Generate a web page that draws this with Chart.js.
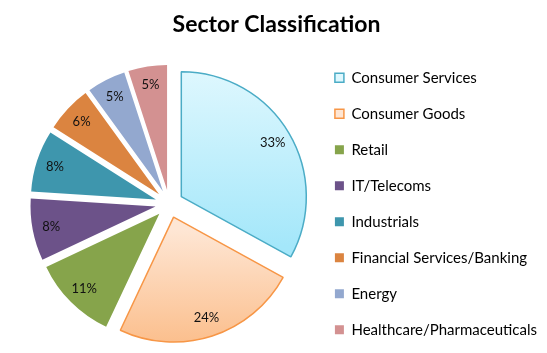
<!DOCTYPE html>
<html>
<head>
<meta charset="utf-8">
<script src="https://cdn.jsdelivr.net/npm/chart.js@4"></script>
<style>
  html, body { margin: 0; padding: 0; background: #fff; }
  #wrap { width: 547px; height: 353px; }
</style>
</head>
<body>
<div id="wrap"><canvas id="chart-sectors"></canvas></div>
<script>
const sectors = [
  'Consumer Services',
  'Consumer Goods',
  'Retail',
  'IT/Telecoms',
  'Industrials',
  'Financial Services/Banking',
  'Energy',
  'Healthcare/Pharmaceuticals'
];
const shares = [33, 24, 11, 8, 8, 6, 5, 5];

const PIE_R = 125;   // px
const EXPLODE = 14;  // px each slice is pulled out

const solid = ['#86a44b', '#6c5289', '#3e96ad', '#db8440', '#93a8cf', '#d39191'];
const borders = ['#4bacc6', '#f79646', ...solid];

// first two slices get a vertical gradient like the Excel fill
function sliceFill(c) {
  const i = c.dataIndex;
  if (i > 1) return solid[i - 2];
  const chart = c.chart;
  const area = chart.chartArea;
  if (!area) return i === 0 ? '#c4effc' : '#fdd3b0';
  const cy = (area.top + area.bottom) / 2;
  const [top, bottom, from, to] = i === 0
    ? [-1.05, 0.4, '#e0f8fe', '#a4e7fa']
    : [0.1, 1.1, '#fee6d4', '#fbbb86'];
  const g = chart.ctx.createLinearGradient(0, cy + top * PIE_R, 0, cy + bottom * PIE_R);
  g.addColorStop(0, from);
  g.addColorStop(1, to);
  return g;
}

// draw every arc shifted out along its middle angle
const explodePlugin = {
  id: 'explode',
  beforeDatasetDraw(chart, args) {
    const ctx = chart.ctx;
    args.meta.data.forEach(arc => {
      const mid = (arc.startAngle + arc.endAngle) / 2;
      ctx.save();
      ctx.translate(Math.cos(mid) * EXPLODE, Math.sin(mid) * EXPLODE);
      arc.draw(ctx);
      ctx.restore();
    });
    return false;
  }
};

const pctLabels = {
  id: 'pctLabels',
  afterDatasetsDraw(chart) {
    const ctx = chart.ctx;
    const meta = chart.getDatasetMeta(0);
    const total = shares.reduce((a, b) => a + b, 0);
    ctx.save();
    ctx.font = "13px Lato, sans-serif";
    ctx.fillStyle = '#111';
    ctx.textAlign = 'center';
    ctx.textBaseline = 'middle';
    meta.data.forEach((arc, i) => {
      const mid = (arc.startAngle + arc.endAngle) / 2;
      const d = EXPLODE + arc.outerRadius * 0.85;
      ctx.fillText(Math.round(shares[i] / total * 100) + '%', arc.x + Math.cos(mid) * d, arc.y + Math.sin(mid) * d);
    });
    ctx.restore();
  }
};

new Chart(document.getElementById('chart-sectors'), {
  type: 'pie',
  data: {
    labels: sectors,
    datasets: [{
      data: shares,
      backgroundColor: sliceFill,
      borderColor: borders,
      borderWidth: [1.5, 1.5, 0, 0, 0, 0, 0, 0],
      radius: PIE_R,
    }]
  },
  options: {
    responsive: true,
    maintainAspectRatio: false,
    animation: false,
    layout: { padding: { left: 6, right: 0, top: 0, bottom: 0 } },
    plugins: {
      title: {
        display: true,
        text: 'Sector Classification',
        color: '#000',
        font: { family: 'Lato, sans-serif', size: 23, weight: 'bold' },
        padding: { top: 11, bottom: 16 }
      },
      legend: {
        position: 'right',
        fullSize: false,
        labels: {
          color: '#000',
          font: { family: 'Lato, sans-serif', size: 15, lineHeight: 2.24 },
          boxWidth: 9,
          boxHeight: 9,
          padding: 2.4,
          // one-line arrays make each row as tall as the font lineHeight (36px pitch)
          generateLabels(chart) {
            const items = Chart.overrides.pie.plugins.legend.labels.generateLabels(chart);
            return items.map((it, i) => i < items.length - 1 ? { ...it, text: [it.text] } : it);
          }
        }
      },
      tooltip: { enabled: false }
    }
  },
  plugins: [explodePlugin, pctLabels]
});
</script>
</body>
</html>
